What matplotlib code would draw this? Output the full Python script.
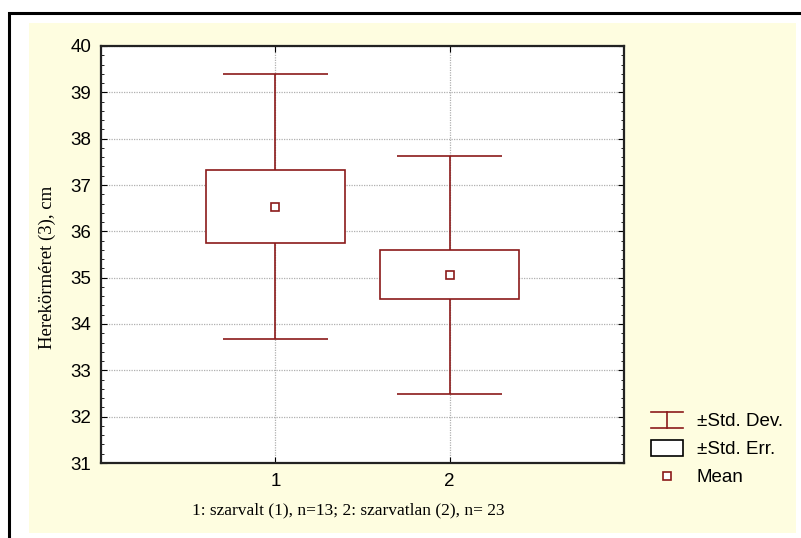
import matplotlib.pyplot as plt
from matplotlib.patches import Rectangle
from matplotlib.ticker import MultipleLocator

# data
groups = [1, 2]
means = [36.53, 35.05]
se_low = [35.75, 34.53]
se_high = [37.33, 35.60]
sd_low = [33.68, 32.48]
sd_high = [39.40, 37.62]
legend_labels = ['±Std. Dev.', '±Std. Err.', 'Mean']

red = '#8B1A1A'
panel = '#FEFDE0'

fig = plt.figure(figsize=(8.01, 5.38), dpi=100)
fig.patch.set_facecolor('white')
W, H = 801, 538

def fx(px):
    return px / W

def fy(py):
    return 1 - py / H

# outer frame + yellow panel
fig.patches.append(Rectangle((fx(9), fy(560)), fx(820) - fx(9), fy(13) - fy(560),
                             transform=fig.transFigure, fill=False, ec='black', lw=2.2, zorder=-10))
fig.patches.append(Rectangle((fx(29), fy(533)), fx(796) - fx(29), fy(23) - fy(533),
                             transform=fig.transFigure, fc=panel, ec='none', zorder=-10))

ax = fig.add_axes([fx(101), fy(463), fx(624) - fx(101), fy(46) - fy(463)])
ax.set_facecolor('white')

for g, m, lo, hi, slo, shi in zip(groups, means, se_low, se_high, sd_low, sd_high):
    ax.vlines(g, slo, lo, color=red, lw=1.2, zorder=3)
    ax.vlines(g, hi, shi, color=red, lw=1.2, zorder=3)
    ax.hlines([slo, shi], g - 0.3, g + 0.3, color=red, lw=1.2, zorder=3)
    ax.add_patch(Rectangle((g - 0.4, lo), 0.8, hi - lo, fc='white', ec=red, lw=1.2, zorder=3))
    ax.plot(g, m, marker='s', ms=6, mfc='white', mec=red, mew=1.2, zorder=4)

ax.set_xlim(0, 3)
ax.set_ylim(31, 40)
ax.set_xticks(groups)
ax.yaxis.set_major_locator(MultipleLocator(1))
ax.yaxis.set_minor_locator(MultipleLocator(0.2))
ax.tick_params(axis='both', which='both', direction='in', top=True, right=True,
               labelsize=13.5, colors='black')
ax.tick_params(axis='both', which='major', length=4, pad=7)
ax.tick_params(axis='y', which='minor', length=2.5)
ax.tick_params(axis='x', which='minor', length=0)
ax.grid(True, which='major', color='#B0B0B0', ls=(0, (1, 1)), lw=0.9)
ax.set_axisbelow(True)
for lab in ax.get_xticklabels() + ax.get_yticklabels():
    lab.set_family('Liberation Sans')
for s in ax.spines.values():
    s.set_linewidth(1.6)
    s.set_color('#222222')

ax.set_ylabel('Herekörméret (3), cm', family='Liberation Serif', fontsize=13.5)
ax.yaxis.set_label_coords(-0.086, 0.47)
ax.set_xlabel('1: szarvalt (1), n=13; 2: szarvatlan (2), n= 23', family='Liberation Serif',
              fontsize=12.5)
ax.xaxis.set_label_coords(0.472, -0.0935)

# legend drawn in its own axes (pixel units)
lax = fig.add_axes([0, 0, 1, 1], facecolor='none')
lax.set_xlim(0, W)
lax.set_ylim(H, 0)
lax.axis('off')
lax.plot([651, 683], [412, 412], color=red, lw=1.2)
lax.plot([651, 683], [428, 428], color=red, lw=1.2)
lax.plot([667, 667], [412, 428], color=red, lw=1.2)
lax.add_patch(Rectangle((651, 440), 32, 16, fc='white', ec='black', lw=1.2))
lax.plot(667, 476, marker='s', ms=6, mfc='white', mec=red, mew=1.2)
for lbl, yy in zip(legend_labels, [421, 449, 477]):
    lax.text(697, yy, lbl, va='center', ha='left', fontsize=13.5, family='Liberation Sans')

fig.savefig('out.png', dpi=100)
